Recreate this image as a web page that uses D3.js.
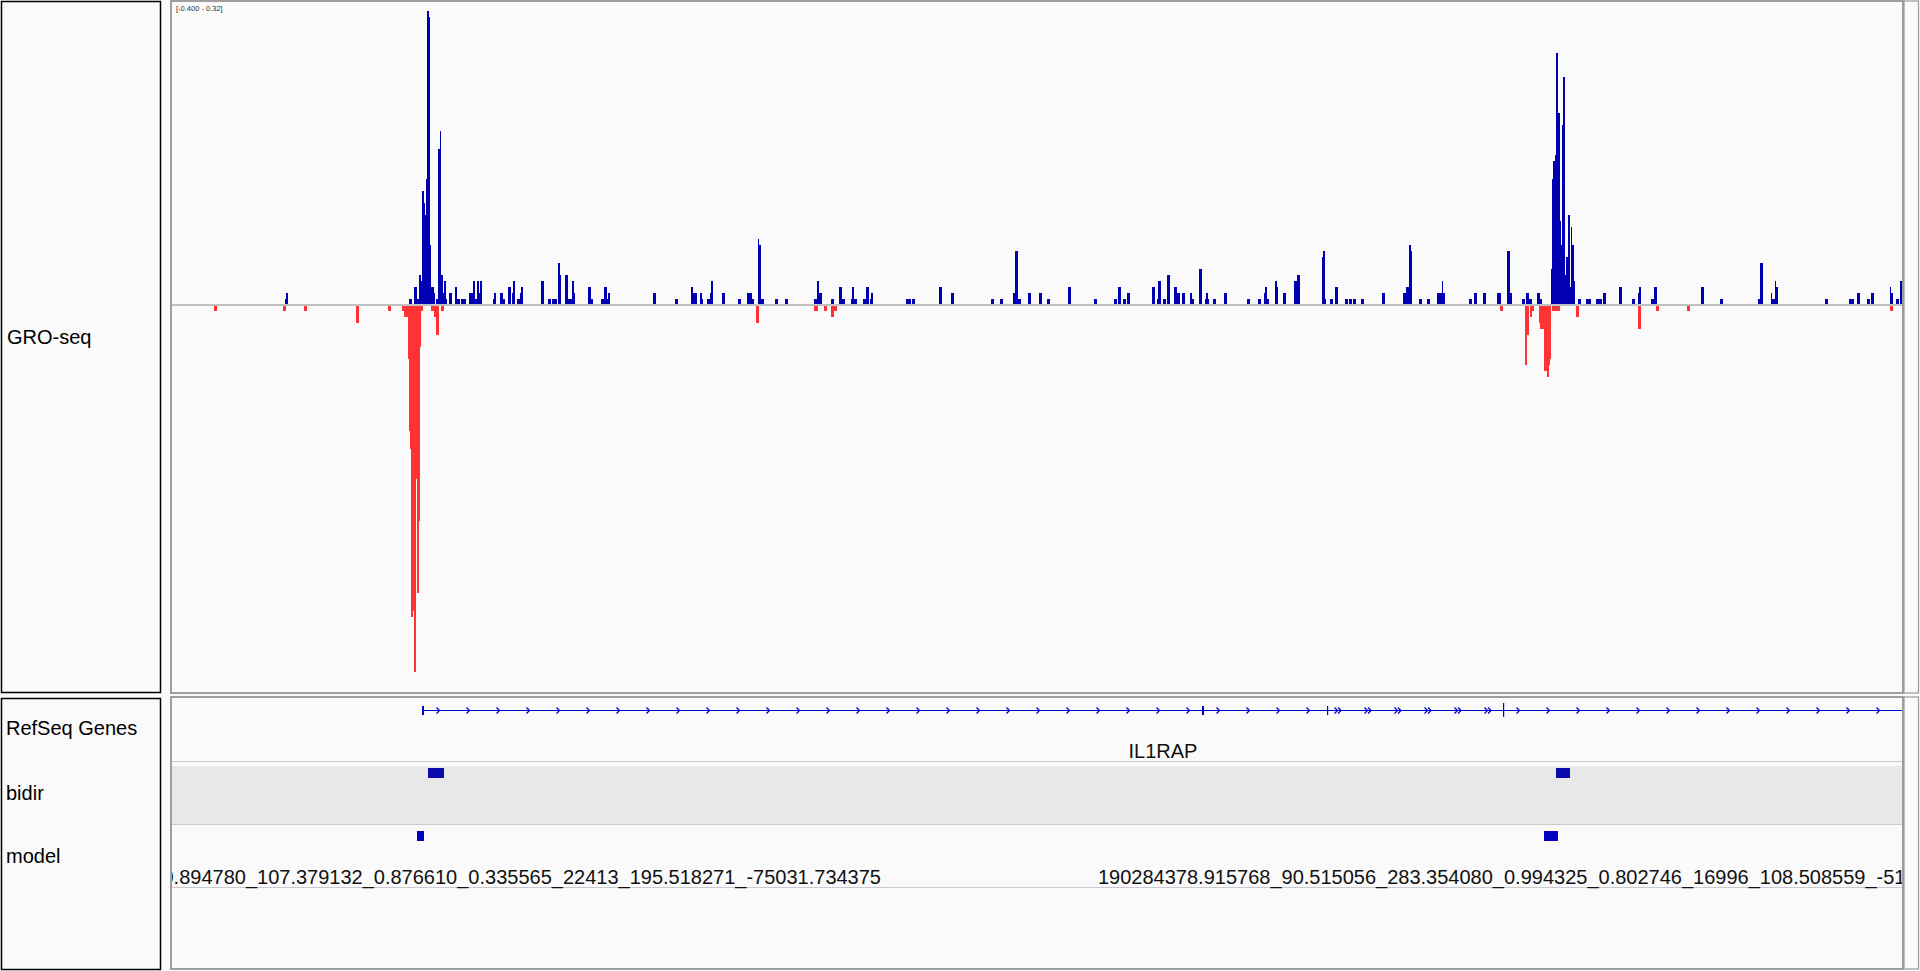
<!DOCTYPE html>
<html><head><meta charset="utf-8">
<script src="https://cdn.jsdelivr.net/npm/d3@7"></script>
<style>
html,body{margin:0;padding:0;background:#fafafa;overflow:hidden;}
svg{display:block;font-family:"Liberation Sans",Arial,sans-serif;}
</style></head><body>
<svg id="c" width="1920" height="971"></svg>
<script>
// ---- DATA (positions in kb from the left edge of the view) ----
const viewKb = [0, 173.2];
const dataRange = [-0.4, 0.32];
const dataRangeLabel = "[-0.400 - 0.32]";
// [start, end, value]
const plusStrand = [
[11.4,11.5,.0063],[11.5,11.7,.0126],[23.8,24.1,.0063],[24.3,24.6,.0189],[24.6,24.8,.0063],[24.8,25.0,.0316],
[25.0,25.1,.0253],[25.1,25.3,.12],[25.3,25.4,.1074],[25.4,25.5,.0947],[25.5,25.6,.1326],[25.6,25.8,.3095],
[25.8,25.9,.3032],[25.9,26.0,.0632],[26.0,26.3,.0189],[26.3,26.4,.0126],[26.5,26.7,.0063],[26.7,26.9,.1642],
[26.9,27.0,.1832],[27.0,27.2,.0316],[27.2,27.3,.0126],[27.3,27.5,.0253],[27.5,27.6,.0063],[27.8,28.1,.0126],
[28.4,28.6,.0189],[28.6,28.9,.0063],[29.0,29.5,.0063],[29.8,30.2,.0126],[30.2,30.4,.0253],[30.4,30.6,.0063],
[30.6,30.8,.0253],[30.8,30.9,.0126],[30.9,31.1,.0253],[32.2,32.3,.0063],[32.3,32.5,.0126],[32.9,33.2,.0126],
[33.2,33.4,.0063],[33.7,34.0,.0189],[34.1,34.2,.0126],[34.2,34.4,.0253],[34.6,34.9,.0063],[34.9,35.0,.0126],
[35.0,35.2,.0189],[37.0,37.3,.0253],[37.7,38.0,.0063],[38.1,38.6,.0063],[38.7,38.9,.0442],[38.9,39.0,.0316],
[39.4,39.7,.0316],[39.7,40.1,.0063],[40.1,40.3,.0253],[40.3,40.4,.0126],[41.7,42.0,.0189],[42.0,42.2,.0063],
[43.0,43.3,.0063],[43.3,43.6,.0189],[43.6,43.7,.0063],[43.7,43.9,.0126],[48.2,48.5,.0126],[50.4,50.7,.0063],
[52.0,52.2,.0189],[52.2,52.6,.0126],[52.9,53.1,.0126],[53.1,53.2,.0063],[53.6,53.9,.0063],[53.9,54.0,.0126],
[54.0,54.2,.0253],[55.1,55.4,.0126],[56.7,57.0,.0063],[57.6,58.1,.0126],[58.1,58.3,.0063],[58.7,58.8,.0695],
[58.8,59.0,.0632],[59.0,59.3,.0063],[60.4,60.7,.0063],[61.4,61.7,.0063],[64.3,64.6,.0063],[64.6,64.8,.0253],
[64.8,65.1,.0126],[66.0,66.3,.0063],[66.8,67.1,.0189],[67.1,67.4,.0063],[68.0,68.1,.0063],[68.1,68.3,.0189],
[68.3,68.6,.0063],[69.2,69.5,.0063],[69.5,69.8,.0189],[69.9,70.0,.0063],[70.0,70.2,.0126],[73.5,74.0,.0063],
[74.1,74.4,.0063],[76.8,77.1,.0189],[78.0,78.3,.0126],[82.0,82.3,.0063],[82.9,83.2,.0063],[84.2,84.4,.0126],
[84.4,84.7,.0568],[84.7,85.0,.0063],[85.7,86.0,.0126],[86.8,87.1,.0126],[87.6,87.9,.0063],[89.7,90.0,.0189],
[92.3,92.6,.0063],[94.3,94.6,.0063],[94.7,95.0,.0189],[95.2,95.5,.0063],[95.6,95.9,.0126],[98.1,98.4,.0189],
[98.6,98.7,.0063],[98.7,99.0,.0253],[99.2,99.5,.0063],[99.6,99.9,.0316],[100.3,100.6,.0189],[100.6,100.9,.0126],
[101.1,101.4,.0126],[101.9,102.1,.0126],[102.1,102.3,.0063],[102.8,103.1,.0379],[103.4,103.5,.0063],[103.5,103.7,.0126],
[103.7,103.8,.0063],[104.2,104.5,.0063],[105.3,105.6,.0126],[107.6,107.9,.0063],[108.7,109.0,.0063],[109.3,109.4,.0126],
[109.4,109.6,.0189],[109.6,109.8,.0063],[110.4,110.6,.0253],[110.6,110.7,.0189],[111.2,111.5,.0126],[112.3,112.6,.0253],
[112.6,112.9,.0316],[115.1,115.2,.0505],[115.2,115.4,.0568],[115.4,115.5,.0063],[115.9,116.2,.0063],[116.4,116.7,.0189],
[117.4,117.7,.0063],[117.8,118.1,.0063],[118.2,118.5,.0063],[119.0,119.3,.0063],[121.1,121.4,.0126],[123.2,123.5,.0126],
[123.5,123.8,.0189],[123.8,124.0,.0632],[124.0,124.1,.0568],[124.8,125.1,.0063],[125.6,125.9,.0063],[126.6,127.1,.0126],
[127.1,127.2,.0253],[127.2,127.4,.0126],[129.8,130.1,.0063],[130.3,130.6,.0126],[131.2,131.5,.0126],[132.6,133.0,.0126],
[133.6,133.9,.0568],[133.9,134.1,.0126],[135.1,135.4,.0063],[135.5,135.8,.0126],[135.8,136.1,.0063],[136.6,136.9,.0126],
[136.9,137.1,.0063],[138.0,138.1,.0379],[138.1,138.2,.1326],[138.2,138.4,.1516],[138.4,138.5,.1579],[138.5,138.7,.2653],
[138.7,138.9,.2021],[138.9,139.0,.0884],[139.0,139.1,.0632],[139.1,139.2,.1895],[139.2,139.4,.24],[139.4,139.5,.0316],
[139.5,139.7,.0505],[139.7,139.9,.0947],[139.9,140.0,.0189],[140.0,140.1,.0821],[140.1,140.3,.0632],[140.3,140.4,.0253],
[140.7,141.0,.0063],[141.5,142.0,.0063],[142.5,143.1,.0063],[143.2,143.5,.0126],[144.8,145.1,.0189],[146.1,146.4,.0063],
[146.7,146.8,.0126],[146.8,147.0,.0189],[148.0,148.3,.0063],[148.3,148.6,.0189],[153.0,153.3,.0189],[154.9,155.2,.0063],
[158.7,158.9,.0063],[158.9,159.2,.0442],[160.0,160.1,.0126],[160.1,160.4,.0063],[160.4,160.5,.0253],[160.5,160.7,.0189],
[165.4,165.7,.0063],[167.8,168.3,.0063],[168.6,168.9,.0126],[169.6,169.9,.0063],[170.0,170.3,.0126],[171.9,172.0,.0189],
[172.0,172.2,.0126],[172.5,172.8,.0063],[172.9,173.2,.0253]
];
const minusStrand = [
[4.3,4.6,-.0063],[11.2,11.5,-.0063],[13.3,13.6,-.0063],[18.5,18.8,-.0189],[21.7,22.0,-.0063],[23.1,23.3,-.0063],
[23.3,23.7,-.0126],[23.7,23.8,-.0568],[23.8,23.9,-.1326],[23.9,24.0,-.1516],[24.0,24.2,-.3284],[24.2,24.3,-.3221],
[24.3,24.5,-.3863],[24.5,24.6,-.1832],[24.6,24.8,-.3032],[24.8,24.9,-.2274],[24.9,25.0,-.0442],[25.0,25.2,-.0063],
[26.0,26.3,-.0063],[26.3,26.5,-.0126],[26.5,26.8,-.0316],[27.0,27.3,-.0063],[58.5,58.8,-.0189],[64.3,64.7,-.0063],
[65.3,65.6,-.0063],[66.0,66.3,-.0126],[66.3,66.6,-.0063],[132.9,133.2,-.0063],[135.4,135.6,-.0632],[135.6,135.8,-.0316],
[135.9,136.1,-.0126],[136.1,136.3,-.0063],[136.8,136.9,-.0189],[136.9,137.1,-.0253],[137.1,137.3,-.0253],[137.3,137.6,-.0695],
[137.6,137.8,-.0758],[137.8,137.9,-.0632],[137.9,138.0,-.0568],[138.1,138.9,-.0063],[140.5,140.8,-.0126],[146.7,147.0,-.0253],
[148.5,148.8,-.0063],[151.6,151.9,-.0063],[171.9,172.2,-.0063]
];
const geneName = "IL1RAP";
const geneStart = 25.1;            // gene continues past the right edge
const geneExons = [[25.1,25.3,"utr"],[103.1,103.3,"utr"],[115.6,115.7,"utr"],[133.2,133.3,"cds"]];
const doubleStrandSpan = [115.6,133.2];
const bidirFeatures = [[25.7,27.3],[138.5,139.9]];
const modelFeatures = [[24.6,25.3],[137.3,138.7]];
const modelLabels = [
  {text:"0.894780_107.379132_0.876610_0.335565_22413_195.518271_-75031.734375", anchor:"end"},
  {text:"190284378.915768_90.515056_283.354080_0.994325_0.802746_16996_108.508559_-516", anchor:"start"}
];
const topTrackNames = ["GRO-seq"];
const bottomTrackNames = ["RefSeq Genes","bidir","model"];

// ---- LAYOUT ----
const L = {nx0:1.5, nx1:160.5, dx0:171, dx1:1903, ty0:1, ty1:693, by0:697, by1:969};
const svg = d3.select("#c");
const x = d3.scaleLinear().domain(viewKb).range([L.dx0, L.dx1]);
const y = d3.scaleLinear().domain(dataRange).range([685, 1]);

svg.append("rect").attr("width",1920).attr("height",971).attr("fill","#fafafa");

const defs = svg.append("defs");
defs.append("clipPath").attr("id","clipTop").append("rect")
  .attr("x",L.dx0+1).attr("y",L.ty0+1).attr("width",L.dx1-L.dx0-2).attr("height",L.ty1-L.ty0-2);
defs.append("clipPath").attr("id","clipBot").append("rect")
  .attr("x",L.dx0+1).attr("y",L.by0+1).attr("width",L.dx1-L.dx0-2).attr("height",L.by1-L.by0-2);

// ---- GRO-seq track ----
const gTop = svg.append("g").attr("clip-path","url(#clipTop)").attr("shape-rendering","crispEdges");
gTop.selectAll("rect.plus").data(plusStrand).join("rect").attr("class","plus")
  .attr("x",d=>x(d[0])).attr("width",d=>Math.max(1,x(d[1])-x(d[0])))
  .attr("y",d=>y(d[2])).attr("height",d=>y(0)-y(d[2])).attr("fill","#0000b2");
gTop.selectAll("rect.minus").data(minusStrand).join("rect").attr("class","minus")
  .attr("x",d=>x(d[0])).attr("width",d=>Math.max(1,x(d[1])-x(d[0])))
  .attr("y",y(0)).attr("height",d=>y(d[2])-y(0)).attr("fill","#ff3333");
gTop.append("line").attr("x1",L.dx0).attr("x2",L.dx1).attr("y1",y(0)).attr("y2",y(0))
  .attr("stroke","#c0c0c0").attr("stroke-width",1.5);
svg.append("text").attr("x",L.dx0+5).attr("y",11).attr("font-size",7.5).attr("fill","#333")
  .text(dataRangeLabel);

// ---- bottom panel ----
const gBot = svg.append("g").attr("clip-path","url(#clipBot)");
gBot.append("rect").attr("x",L.dx0).attr("width",L.dx1-L.dx0).attr("y",766).attr("height",58).attr("fill","#e8e8e8");
[761.5, 824.5, 887.5].forEach(yy=>{
  gBot.append("line").attr("x1",L.dx0).attr("x2",L.dx1).attr("y1",yy).attr("y2",yy)
    .attr("stroke","#c9c9d2").attr("stroke-width",1.2);
});
const geneY = 710;
const geneCol = "#0000cc";
gBot.append("line").attr("x1",x(geneStart)).attr("x2",L.dx1).attr("y1",geneY+0.5).attr("y2",geneY+0.5)
  .attr("stroke",geneCol).attr("stroke-width",1.2);
const arrows = [];
for (let px = x(geneStart)+17; px < L.dx1-3; px += 30) arrows.push(px);
const dbl0 = x(doubleStrandSpan[0]), dbl1 = x(doubleStrandSpan[1]);
const chev = (px)=>`M${px-2.5},${geneY-2.5}L${px+0.5},${geneY+0.5}L${px-2.5},${geneY+3.5}`;
gBot.selectAll("path.arr").data(arrows).join("path").attr("class","arr")
  .attr("d",px=> (px>dbl0 && px<dbl1) ? chev(px-2)+chev(px+1.5) : chev(px))
  .attr("fill","none").attr("stroke",geneCol).attr("stroke-width",1.3);
gBot.selectAll("rect.exon").data(geneExons).join("rect").attr("class","exon")
  .attr("x",d=>x(d[0])).attr("width",d=>Math.max(1.2,x(d[1])-x(d[0])))
  .attr("y",d=>d[2]==="cds"?geneY-7:geneY-4).attr("height",d=>d[2]==="cds"?14:9)
  .attr("fill",geneCol);
gBot.append("text").attr("x",(x(geneStart)+x(viewKb[1]))/2+0.5).attr("y",758).attr("text-anchor","middle")
  .attr("font-size",20).attr("fill","#111").text(geneName);
gBot.selectAll("rect.bidir").data(bidirFeatures).join("rect").attr("class","bidir")
  .attr("x",d=>x(d[0])).attr("width",d=>x(d[1])-x(d[0])).attr("y",768).attr("height",10).attr("fill","#0a0aaa");
gBot.selectAll("rect.model").data(modelFeatures).join("rect").attr("class","model")
  .attr("x",d=>x(d[0])).attr("width",d=>x(d[1])-x(d[0])).attr("y",831).attr("height",10).attr("fill","#0000c0");
gBot.selectAll("text.mlab").data(modelLabels).join("text").attr("class","mlab")
  .attr("x",(d,i)=>{const c=(x(modelFeatures[i][0])+x(modelFeatures[i][1]))/2; return d.anchor==="end"? c+460.5 : c-453;})
  .attr("y",884).attr("text-anchor",d=>d.anchor).attr("font-size",20).attr("fill","#111").text(d=>d.text);

// ---- frames ----
function frame(x0,y0,x1,y1,col,w){
  svg.append("rect").attr("x",x0).attr("y",y0).attr("width",x1-x0).attr("height",y1-y0)
    .attr("fill","none").attr("stroke",col).attr("stroke-width",w);
}
frame(L.nx0,1.5,L.nx1,692.5,"#000",1.5);
frame(L.nx0,698.5,L.nx1,969.5,"#000",1.5);
frame(L.dx0,L.ty0,L.dx1,L.ty1,"#888",1.6);
frame(L.dx0,L.by0,L.dx1,L.by1,"#888",1.6);
frame(1904,L.ty0,1918.5,L.ty1,"#999",1.2);
frame(1904,L.by0,1918.5,L.by1,"#999",1.2);

// ---- track names ----
svg.append("text").attr("x",7).attr("y",344).attr("font-size",20).attr("fill","#000").text(topTrackNames[0]);
const nameY = [735, 800, 863];
svg.selectAll("text.bname").data(bottomTrackNames).join("text").attr("class","bname")
  .attr("x",6).attr("y",(d,i)=>nameY[i]).attr("font-size",20).attr("fill","#000").text(d=>d);
</script>
</body></html>
